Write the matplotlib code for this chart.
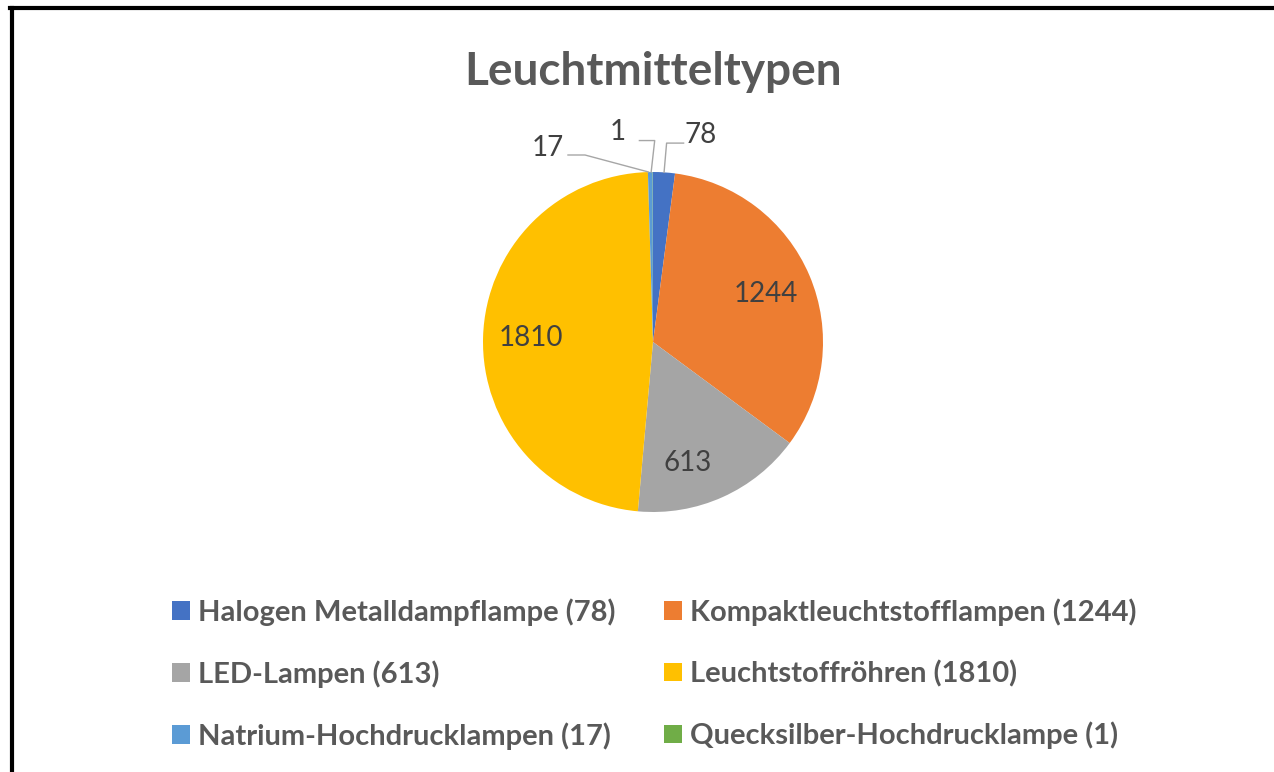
import numpy as np
import matplotlib.pyplot as plt
from matplotlib.patches import Patch
from matplotlib.lines import Line2D

# The data
categories = ["Halogen Metalldampflampe", "Kompaktleuchtstofflampen", "LED-Lampen",
              "Leuchtstoffröhren", "Natrium-Hochdrucklampen", "Quecksilber-Hochdrucklampe"]
counts = [78, 1244, 613, 1810, 17, 1]
colors = ["#4472C4", "#ED7D31", "#A5A5A5", "#FFC000", "#5B9BD5", "#70AD47"]

plt.rcParams['font.family'] = ['Lato', 'DejaVu Sans']

W, H = 1274, 772
fig = plt.figure(figsize=(W / 100, H / 100), dpi=100)

# pie axes: centre (653, 342) px, radius 170 px
cx, cy, r = 653, 342, 170
half = 300
ax = fig.add_axes([(cx - half) / W, (H - cy - half) / H, 2 * half / W, 2 * half / H])

wedges, _ = ax.pie(counts, colors=colors, startangle=90, counterclock=False,
                   radius=1, center=(0, 0), frame=True,
                   wedgeprops=dict(linewidth=0))
ax.set_xlim(-half / r, half / r)
ax.set_ylim(-half / r, half / r)
ax.set_aspect('equal')
ax.axis('off')

# data labels
lab_col = "#404040"
line_col = "#A6A6A6"
inside_pos = {1: (0.0, 0.72), 2: (-8.0, 0.74), 3: (0.0, 0.72)}  # (angle shift deg, radius)
outside = {0: (0.28, 1.22), 4: (-0.62, 1.14), 5: (-0.21, 1.235)}
for i, (w, v) in enumerate(zip(wedges, counts)):
    mid = np.deg2rad((w.theta1 + w.theta2) / 2)
    if i in outside:
        tx, ty = outside[i]
        ax.text(tx, ty, str(v), ha='center', va='center', fontsize=20, color=lab_col)
        ex, ey = np.cos(mid), np.sin(mid)
        if i == 0:
            ax.plot([tx - 0.10, tx - 0.20, ex], [ty - 0.05, ty - 0.05, ey], color=line_col, lw=1)
        elif i == 4:
            ax.plot([tx + 0.12, tx + 0.22, ex - 0.01], [ty - 0.04, ty - 0.04, ey], color=line_col, lw=1)
        else:
            ax.plot([tx + 0.13, tx + 0.22, ex - 0.01], [ty - 0.05, ty - 0.05, ey], color=line_col, lw=1)
    else:
        dang, rad = inside_pos[i]
        a = mid + np.deg2rad(dang)
        ax.text(rad * np.cos(a), rad * np.sin(a), str(v), ha='center', va='center',
                fontsize=20, color=lab_col)

# title
fig.text(cx / W, 1 - 72 / H, "Leuchtmitteltypen", ha='center', va='center',
         fontsize=33, fontweight='bold', color="#595959")

# legend, two columns placed separately
handles = [Patch(facecolor=c, edgecolor='none') for c in colors]
labels = [f"{n} ({v})" for n, v in zip(categories, counts)]
leg_kw = dict(frameon=False, handlelength=0.6, handleheight=0.6,
              handletextpad=0.3, labelspacing=1.18, borderpad=0, borderaxespad=0,
              loc='upper left', labelcolor="#595959", prop=dict(weight='bold', size=21))
fig.legend([handles[i] for i in (0, 2, 4)], [labels[i] for i in (0, 2, 4)],
           bbox_to_anchor=(172 / W, 1 - 598 / H), **leg_kw)
fig.legend([handles[i] for i in (1, 3, 5)], [labels[i] for i in (1, 3, 5)],
           bbox_to_anchor=(664 / W, 1 - 598 / H), **leg_kw)

# chart border (top and left edges visible)
fig.add_artist(Line2D([10 / W, 1], [1 - 8 / H, 1 - 8 / H], color='black', lw=3,
                      transform=fig.transFigure))
fig.add_artist(Line2D([12 / W, 12 / W], [0, 1 - 8 / H], color='black', lw=3,
                      transform=fig.transFigure))

fig.savefig("out.png", dpi=100)
